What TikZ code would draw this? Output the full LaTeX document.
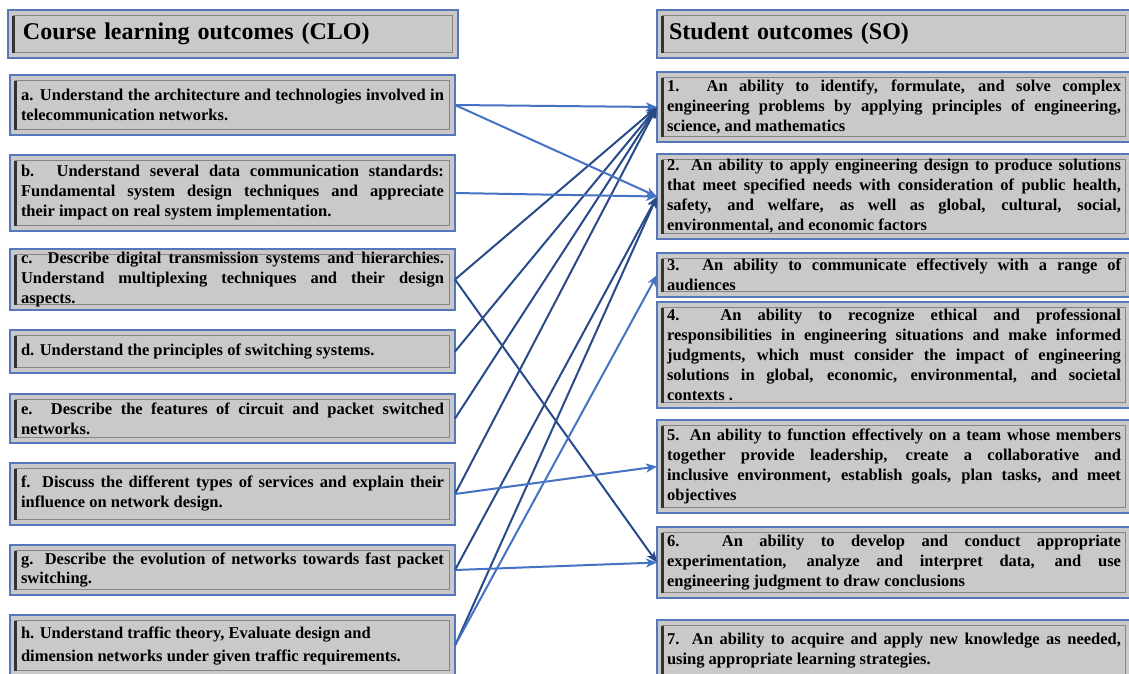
\documentclass[tikz,border=0pt]{standalone}
\usepackage{fontspec}
\setmainfont{Liberation Serif}
\usetikzlibrary{arrows.meta}
\definecolor{boxfill}{HTML}{C9C9C9}
\definecolor{boxedge}{HTML}{5678BA}
\definecolor{lightarr}{HTML}{4472C4}
\definecolor{darkarr}{HTML}{294A89}
\definecolor{bevelgray}{HTML}{858585}
\begin{document}
\begin{tikzpicture}[x=1pt,y=-1pt,
  bevelbox/.style={draw=boxedge, line width=1.6pt, fill=boxfill, inner sep=0pt, outer sep=0pt,
    anchor=north west,
    path picture={
      \draw[bevelgray, line width=1.2pt]
        ([shift={(5.5pt,-5.5pt)}]path picture bounding box.north west) rectangle
        ([shift={(-5.5pt,5.5pt)}]path picture bounding box.south east);
      \draw[black!80, line width=2.2pt]
        ([shift={(5.5pt,-5.5pt)}]path picture bounding box.north west) --
        ([shift={(5.5pt,5.5pt)}]path picture bounding box.south west);
    }},
  headbox/.style={bevelbox, align=left, font=\bfseries\fontsize{24}{28}\selectfont},
  cloleft/.style={bevelbox, minimum width=445pt, text width=423pt, align=justify,
    font=\bfseries\fontsize{16.5}{20}\selectfont},
  soright/.style={bevelbox, minimum width=474pt, text width=454pt, align=justify,
    font=\bfseries\fontsize{16.5}{20}\selectfont},
  conn/.style={line width=2pt, -{Stealth[length=11pt,width=9pt,inset=3pt]}},
  lightconn/.style={conn, lightarr},
  darkconn/.style={conn, darkarr}
]
\useasboundingbox (0,0) rectangle (1129,673);
\clip (0,0) rectangle (1129,673);
\fill[white] (0,0) rectangle (1129,673);

% left column
\node[headbox, minimum width=450pt, minimum height=48pt, text width=420pt] (clo) at (8,10) {Course learning outcomes (CLO)};
\node[cloleft, minimum height=60pt] (a) at (10,75) {a. Understand the architecture and technologies involved in\linebreak telecommunication networks.};
\node[cloleft, minimum height=76pt] (b) at (10,155) {b. Understand several data communication standards:\linebreak Fundamental system design techniques and appreciate\linebreak their impact on real system implementation.};
\node[cloleft, minimum height=61pt] (c) at (10,249) {c. Describe digital transmission systems and hierarchies.\linebreak Understand multiplexing techniques and their design\linebreak aspects.};
\node[cloleft, minimum height=43pt] (d) at (10,330) {d. Understand the principles of switching systems.};
\node[cloleft, minimum height=49pt] (e) at (10,394) {e. Describe the features of circuit and packet switched\linebreak networks.};
\node[cloleft, minimum height=62pt] (f) at (10,463) {f. Discuss the different types of services and explain their\linebreak influence on network design.};
\node[cloleft, minimum height=50pt] (g) at (10,545) {g. Describe the evolution of networks towards fast packet\linebreak switching.};
\node[cloleft, minimum height=61pt, font=\bfseries\fontsize{16.5}{23}\selectfont] (h) at (10,615) {h. Understand traffic theory, Evaluate design and\\ dimension networks under given traffic requirements.};

% right column
\node[headbox, minimum width=474pt, minimum height=48pt, text width=450pt] (so) at (657,10) {Student outcomes (SO)};
\node[soright, minimum height=70pt] (s1) at (657,72) {1. An ability to identify, formulate, and solve complex\linebreak engineering problems by applying principles of engineering,\linebreak science, and mathematics};
\node[soright, minimum height=85pt] (s2) at (657,154) {2. An ability to apply engineering design to produce solutions\linebreak that meet specified needs with consideration of public health,\linebreak safety, and welfare, as well as global, cultural, social,\linebreak environmental, and economic factors};
\node[soright, minimum height=44pt] (s3) at (657,253) {3. An ability to communicate effectively with a range of\linebreak audiences};
\node[soright, minimum height=106pt] (s4) at (657,302) {4. An ability to recognize ethical and professional\linebreak responsibilities in engineering situations and make informed\linebreak judgments, which must consider the impact of engineering\linebreak solutions in global, economic, environmental, and societal\linebreak contexts .};
\node[soright, minimum height=93pt] (s5) at (657,420) {5. An ability to function effectively on a team whose members\linebreak together provide leadership, create a collaborative and\linebreak inclusive environment, establish goals, plan tasks, and meet\linebreak objectives};
\node[soright, minimum height=71pt] (s6) at (657,527) {6. An ability to develop and conduct appropriate\linebreak experimentation, analyze and interpret data, and use\linebreak engineering judgment to draw conclusions};
\node[soright, minimum height=62pt] (s7) at (657,620) {7. An ability to acquire and apply new knowledge as needed,\linebreak using appropriate learning strategies.};

% connectors
\draw[darkconn] (c.east) -- (s6.west);
\draw[darkconn] (c.east) -- (s1.west);
\draw[darkconn] (d.east) -- (s1.west);
\draw[darkconn] (e.east) -- (s1.west);
\draw[darkconn] (f.east) -- (s1.west);
\draw[darkconn] (g.east) -- (s2.west);
\draw[darkconn] (h.east) -- (s2.west);
\draw[lightconn] (h.east) -- (s3.west);
\draw[lightconn] (a.east) -- (s1.west);
\draw[lightconn] (a.east) -- (s2.west);
\draw[lightconn] (b.east) -- (s2.west);
\draw[lightconn] (f.east) -- (s5.west);
\draw[lightconn] (g.east) -- (s6.west);
\end{tikzpicture}
\end{document}
